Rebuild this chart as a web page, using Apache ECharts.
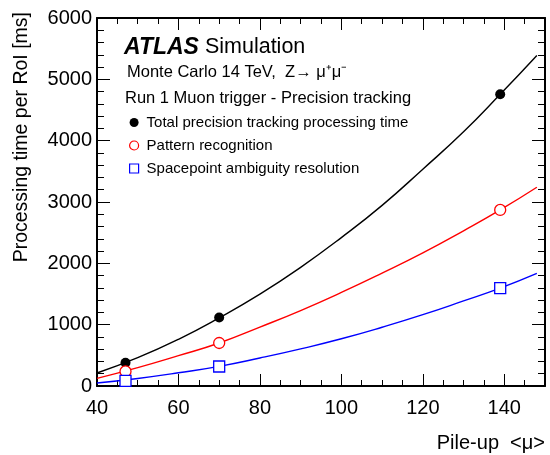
<!DOCTYPE html>
<html>
<head>
<meta charset="utf-8">
<script src="https://cdn.jsdelivr.net/npm/echarts@6/dist/echarts.min.js"></script>
<style>html,body{margin:0;padding:0;background:#fff}#c{width:550px;height:455px}</style>
</head>
<body>
<div id="c"></div>
<script>
// Measured points
var muPoints = [47, 70, 139];
var totalTime = [380, 1118, 4756];
var patternRecognition = [238, 701, 2870];
var spacepointResolution = [84, 318, 1595];

// Fitted curves
var muFit = [40, 50, 60, 70, 80, 90, 100, 110, 120, 130, 139, 148];
var totalFit = [212, 462, 762, 1112, 1498, 1935, 2420, 2945, 3535, 4145, 4756, 5390];
var patternFit = [125, 300, 495, 701, 960, 1230, 1525, 1840, 2170, 2530, 2870, 3240];
var spacepointFit = [49, 123, 215, 320, 456, 605, 770, 958, 1163, 1387, 1595, 1835];

var legendNames = ['Total precision tracking processing time', 'Pattern recognition', 'Spacepoint ambiguity resolution'];

function pairs(xs, ys) { return xs.map(function (x, i) { return [x, ys[i]]; }); }

var FONT = 'Liberation Sans, Arial, Helvetica, sans-serif';
var chart = echarts.init(document.getElementById('c'), null, { renderer: 'canvas' });

function xAx(pos, interval, len, labels, line) {
  return {
    type: 'value', position: pos, min: 40, max: 150, interval: interval,
    axisLine: { show: line, onZero: false, lineStyle: { color: '#000', width: 2 } },
    axisTick: { show: true, inside: true, length: len, lineStyle: { color: '#000', width: 1 } },
    axisLabel: { show: labels, color: '#000', fontSize: 20, fontFamily: FONT, margin: 12, showMaxLabel: false },
    splitLine: { show: false }
  };
}
function yAx(pos, labels) {
  return {
    type: 'value', position: pos, min: 0, max: 6000, interval: 1000,
    axisLine: { show: true, onZero: false, lineStyle: { color: '#000', width: 2 } },
    axisTick: { show: true, inside: true, length: 13, lineStyle: { color: '#000', width: 1 } },
    minorTick: { show: true, splitNumber: 5, length: 7, lineStyle: { color: '#000', width: 1 } },
    axisLabel: { show: labels, color: '#000', fontSize: 20, fontFamily: FONT, margin: 5, formatter: function (v) { return String(v); } },
    splitLine: { show: false }
  };
}

var option = {
  animation: false,
  backgroundColor: '#fff',
  grid: { left: 97, right: 5, top: 18, bottom: 69, containLabel: false },
  xAxis: [
    xAx('bottom', 20, 12, true, true),
    xAx('top', 20, 12, false, true),
    xAx('bottom', 5, 6, false, false),
    xAx('top', 5, 6, false, false)
  ],
  yAxis: [yAx('left', true), yAx('right', false)],
  legend: {
    orient: 'vertical', left: 124, top: 110, itemGap: 8, itemWidth: 9, itemHeight: 9,
    textStyle: { fontSize: 15, fontFamily: FONT, color: '#000', padding: [0, 0, 0, 3] },
    data: [
      { name: legendNames[0], icon: 'circle', itemStyle: { color: '#000', opacity: 1 } },
      { name: legendNames[1], icon: 'circle', itemStyle: { color: '#fff', borderColor: '#ff0000', borderWidth: 1.2, opacity: 1 } },
      { name: legendNames[2], icon: 'rect', itemStyle: { color: '#fff', borderColor: '#0000ff', borderWidth: 1.2, opacity: 1 } }
    ]
  },
  graphic: [
    { type: 'text', left: 124, top: 36, style: {
      text: '{b|ATLAS}{n| Simulation}',
      rich: {
        b: { fontSize: 23, fontWeight: 'bold', fontStyle: 'italic', fontFamily: FONT, fill: '#000' },
        n: { fontSize: 21.5, fontFamily: FONT, fill: '#000' }
      } } },
    { type: 'text', left: 127, top: 64, style: { text: 'Monte Carlo 14 TeV,  Z\u2192 \u03bc\u207a\u03bc\u207b', fontSize: 16.5, fontFamily: FONT, fill: '#000' } },
    { type: 'text', left: 125, top: 90, style: { text: 'Run 1 Muon trigger - Precision tracking', fontSize: 16.5, fontFamily: FONT, fill: '#000' } },
    { type: 'text', x: 22, y: 12, rotation: Math.PI / 2, style: { text: 'Processing time per RoI [ms]', fontSize: 19.5, fontFamily: FONT, fill: '#000', textAlign: 'right', textVerticalAlign: 'middle' } },
    { type: 'text', right: 5, top: 433, style: { text: 'Pile-up  <\u03bc>', fontSize: 20, fontFamily: FONT, fill: '#000' } }
  ],
  series: [
    { type: 'line', smooth: true, showSymbol: false, symbol: 'none', data: pairs(muFit, totalFit), lineStyle: { color: '#000', width: 1.4 }, z: 2, silent: true },
    { type: 'line', smooth: true, showSymbol: false, symbol: 'none', data: pairs(muFit, patternFit), lineStyle: { color: '#ff0000', width: 1.4 }, z: 2, silent: true },
    { type: 'line', smooth: true, showSymbol: false, symbol: 'none', data: pairs(muFit, spacepointFit), lineStyle: { color: '#0000ff', width: 1.4 }, z: 2, silent: true },
    { name: legendNames[0], type: 'scatter', symbol: 'circle', symbolSize: 10, data: pairs(muPoints, totalTime), itemStyle: { color: '#000', opacity: 1 }, z: 5 },
    { name: legendNames[1], type: 'scatter', symbol: 'circle', symbolSize: 11, data: pairs(muPoints, patternRecognition), itemStyle: { color: '#fff', borderColor: '#ff0000', borderWidth: 1.3, opacity: 1 }, z: 5 },
    { name: legendNames[2], type: 'scatter', symbol: 'rect', symbolSize: 11, data: pairs(muPoints, spacepointResolution), itemStyle: { color: '#fff', borderColor: '#0000ff', borderWidth: 1.3, opacity: 1 }, z: 5 }
  ]
};
chart.setOption(option);
</script>
</body>
</html>
